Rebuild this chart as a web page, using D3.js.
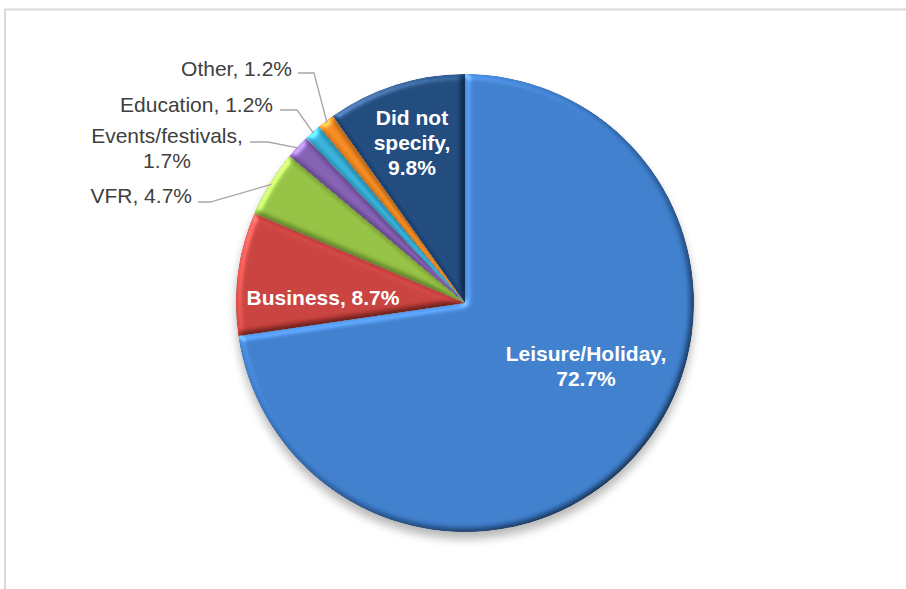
<!DOCTYPE html>
<html>
<head>
<meta charset="utf-8">
<script src="https://cdn.jsdelivr.net/npm/d3@7"></script>
<style>
  html, body { margin: 0; padding: 0; background: #ffffff; }
  svg { display: block; }
  text { font-family: "Liberation Sans", Arial, sans-serif; }
</style>
</head>
<body>
<svg id="chart" width="906" height="589"></svg>
<script>
// ---- data ----
const categories = ["Leisure/Holiday", "Business", "VFR", "Events/festivals", "Education", "Other", "Did not specify"];
const values = [72.7, 8.7, 4.7, 1.7, 1.2, 1.2, 9.8];
const sliceColors = ["#3a79c6", "#c23d39", "#8fbc3f", "#7f5bae", "#34add5", "#ef861e", "#1c4577"];

// ---- layout ----
const W = 906, H = 589;
const cx = 465, cy = 303, R = 229;
// label placement (layout only)
const insideLabels = {
  "Leisure/Holiday": { x: 586, y: 361, lines: ["Leisure/Holiday,", "72.7%"] },
  "Business": { x: 323, y: 305, lines: ["Business, 8.7%"] },
  "Did not specify": { x: 412, y: 125, lines: ["Did not", "specify,", "9.8%"] }
};
const outsideLabels = {
  "Other": { x: 292, y: 76, lineY: 73, start: 298, elbow: 314, anchor: "end", lines: ["Other, 1.2%"] },
  "Education": { x: 273, y: 112, lineY: 110, start: 280, elbow: 297, anchor: "end", lines: ["Education, 1.2%"] },
  "Events/festivals": { x: 167, y: 143, lineY: 142, start: 250, elbow: 268, anchor: "middle", lines: ["Events/festivals,", "1.7%"] },
  "VFR": { x: 192, y: 203, lineY: 202, start: 198, elbow: 210, anchor: "end", lines: ["VFR, 4.7%"] }
};

const svg = d3.select("#chart");
const defs = svg.append("defs");

// shadow filter
const sh = defs.append("filter").attr("id", "shadow").attr("x", "-20%").attr("y", "-20%").attr("width", "140%").attr("height", "140%");
sh.append("feGaussianBlur").attr("stdDeviation", 5);

// bevel filter
const bv = defs.append("filter").attr("id", "bevel").attr("x", "-10%").attr("y", "-10%").attr("width", "120%").attr("height", "120%")
  .attr("color-interpolation-filters", "sRGB");
bv.append("feGaussianBlur").attr("in", "SourceAlpha").attr("stdDeviation", 3).attr("result", "blur");
const diff = bv.append("feDiffuseLighting").attr("in", "blur").attr("surfaceScale", 2.5).attr("diffuseConstant", 1)
  .attr("lighting-color", "#ffffff").attr("result", "diff");
diff.append("feDistantLight").attr("azimuth", 225).attr("elevation", 55);
bv.append("feComposite").attr("in", "SourceGraphic").attr("in2", "diff").attr("operator", "arithmetic")
  .attr("k1", 1 / Math.sin(55 * Math.PI / 180)).attr("k2", 0).attr("k3", 0).attr("k4", 0).attr("result", "lit");
const spec = bv.append("feSpecularLighting").attr("in", "blur").attr("surfaceScale", 2.5).attr("specularConstant", 0.5)
  .attr("specularExponent", 25).attr("lighting-color", "#ffffff").attr("result", "spec");
spec.append("feDistantLight").attr("azimuth", 225).attr("elevation", 45);
bv.append("feComposite").attr("in", "spec").attr("in2", "SourceAlpha").attr("operator", "in").attr("result", "specIn");
bv.append("feComposite").attr("in", "lit").attr("in2", "specIn").attr("operator", "arithmetic")
  .attr("k1", 0).attr("k2", 1).attr("k3", 0.45).attr("k4", 0).attr("result", "out");
bv.append("feComposite").attr("in", "out").attr("in2", "SourceAlpha").attr("operator", "in");

// frame
svg.append("rect").attr("x", 5).attr("y", 9.5).attr("width", 1000).attr("height", 700)
  .attr("fill", "none").attr("stroke", "#d9d9d9").attr("stroke-width", 2);

const data = categories.map((c, i) => ({ cat: c, value: values[i], color: sliceColors[i] }));
const pie = d3.pie().sort(null).value(d => d.value).startAngle(0).endAngle(2 * Math.PI);
const arcs = pie(data);
const arc = d3.arc().innerRadius(0).outerRadius(R);

const g = svg.append("g").attr("transform", `translate(${cx},${cy})`);

// drop shadow
g.append("circle").attr("cx", 0).attr("cy", 7).attr("r", R)
  .attr("fill", "#000").attr("opacity", 0.28).attr("filter", "url(#shadow)");

g.selectAll("path.slice").data(arcs).join("path")
  .attr("class", "slice")
  .attr("d", arc)
  .attr("fill", d => d.data.color)
  .attr("filter", "url(#bevel)");

// inside labels
arcs.forEach(a => {
  const L = insideLabels[a.data.cat];
  if (!L) return;
  const t = svg.append("text").attr("x", L.x).attr("y", L.y)
    .attr("text-anchor", "middle").attr("fill", "#ffffff")
    .attr("font-weight", "bold").attr("font-size", "21px");
  L.lines.forEach((ln, i) => t.append("tspan").attr("x", L.x).attr("dy", i === 0 ? 0 : 25).text(ln));
});

// outside labels with leader lines
arcs.forEach(a => {
  const L = outsideLabels[a.data.cat];
  if (!L) return;
  const mid = (a.startAngle + a.endAngle) / 2;
  const ex = cx + Math.sin(mid) * (R - 2);
  const ey = cy - Math.cos(mid) * (R - 2);
  svg.append("polyline")
    .attr("points", `${L.start},${L.lineY} ${L.elbow},${L.lineY} ${ex},${ey}`)
    .attr("fill", "none").attr("stroke", "#a6a6a6").attr("stroke-width", 1.3);
  const t = svg.append("text").attr("x", L.x).attr("y", L.y)
    .attr("text-anchor", L.anchor).attr("fill", "#404040").attr("font-size", "21px");
  L.lines.forEach((ln, i) => t.append("tspan").attr("x", L.x).attr("dy", i === 0 ? 0 : 25).text(ln));
});
</script>
</body>
</html>
